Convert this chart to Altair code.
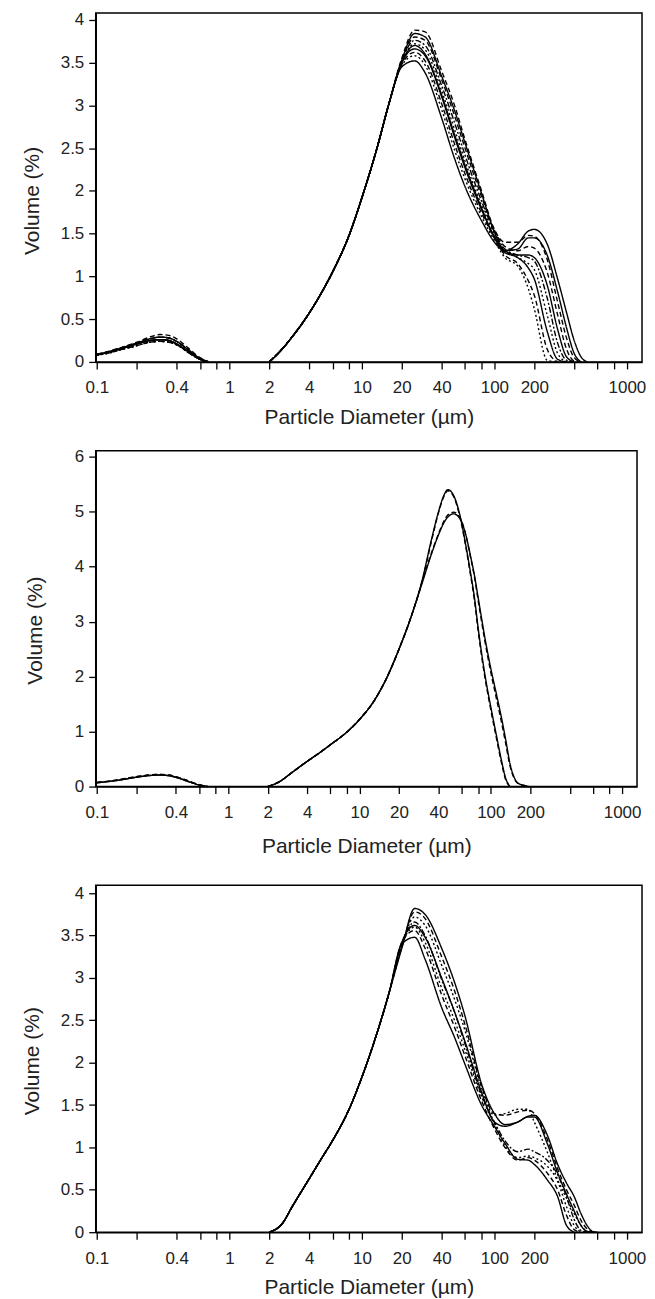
import altair as alt
import pandas as pd

# ---------------- axis ticks ----------------
X_TICKS = [0.1, 0.2, 0.4, 0.6, 0.8, 1, 2, 4, 6, 8, 10, 20, 40, 60, 80,
           100, 200, 400, 600, 800, 1000]
X_LABELED = [0.1, 0.4, 1, 2, 4, 10, 20, 40, 100, 200, 1000]
Y_TICKS_4 = [0, 0.5, 1, 1.5, 2, 2.5, 3, 3.5, 4]
Y_TICKS_6 = [0, 1, 2, 3, 4, 5, 6]

STYLES = ["solid", "dashed", "dotted", "dashdot"]
DASHES = [[1, 0], [5, 3], [2, 2.5], [6, 2, 2, 2]]

# ---------------- panel 1 ----------------
P1_FINE_X = [0.1, 0.12, 0.15, 0.2, 0.25, 0.3, 0.35, 0.4, 0.5, 0.6, 0.7]
P1_FINE_A = [0.085, 0.11, 0.15, 0.21, 0.25, 0.26, 0.25, 0.21, 0.11, 0.03, 0.0]
P1_FINE_B = [0.08, 0.10, 0.14, 0.19, 0.23, 0.24, 0.23, 0.20, 0.10, 0.03, 0.0]
P1_FINE_C = [0.09, 0.115, 0.16, 0.22, 0.27, 0.29, 0.28, 0.24, 0.13, 0.04, 0.0]
P1_FINE_D = [0.09, 0.12, 0.165, 0.23, 0.29, 0.32, 0.31, 0.27, 0.15, 0.05, 0.0]

P1_RISE_X = [2, 2.5, 3, 4, 5, 6, 8, 10, 13, 16]
P1_RISE_Y = [0, 0.15, 0.30, 0.57, 0.82, 1.05, 1.48, 1.92, 2.50, 3.02]
P1_TAIL_X = [20, 25, 30, 40, 50, 60, 80, 100, 120, 150, 180, 200, 250,
             300, 350, 400, 450, 500]
P1_C1 = [3.45, 3.52, 3.38, 2.85, 2.38, 2.05, 1.65, 1.40, 1.28, 1.22, 1.10, 0.97, 0.36, 0.03, 0.0]
P1_C2 = [3.47, 3.58, 3.47, 2.95, 2.48, 2.14, 1.70, 1.42, 1.22, 1.12, 0.86, 0.62, 0.02, 0.0]
P1_C3 = [3.48, 3.62, 3.52, 3.02, 2.55, 2.20, 1.74, 1.45, 1.25, 1.15, 0.95, 0.78, 0.15, 0.0]
P1_C4 = [3.50, 3.66, 3.58, 3.10, 2.63, 2.27, 1.78, 1.47, 1.30, 1.25, 1.25, 1.22, 0.90, 0.38, 0.06, 0.0]
P1_C5 = [3.50, 3.72, 3.65, 3.17, 2.72, 2.35, 1.83, 1.50, 1.30, 1.22, 1.15, 1.08, 0.55, 0.10, 0.0]
P1_C6 = [3.52, 3.76, 3.70, 3.23, 2.80, 2.42, 1.88, 1.52, 1.32, 1.25, 1.22, 1.18, 0.75, 0.22, 0.02, 0.0]
P1_C7 = [3.52, 3.80, 3.76, 3.30, 2.88, 2.50, 1.93, 1.54, 1.35, 1.30, 1.35, 1.33, 1.05, 0.55, 0.15, 0.01, 0.0]
P1_C8 = [3.53, 3.84, 3.80, 3.34, 2.94, 2.56, 1.97, 1.52, 1.30, 1.32, 1.45, 1.45, 1.25, 0.82, 0.40, 0.10, 0.0]
P1_C9 = [3.55, 3.88, 3.86, 3.40, 3.00, 2.60, 2.00, 1.55, 1.40, 1.40, 1.48, 1.47, 1.20, 0.70, 0.28, 0.05, 0.0]
P1_C10 = [3.50, 3.70, 3.60, 3.12, 2.66, 2.30, 1.80, 1.45, 1.30, 1.38, 1.53, 1.55, 1.38, 0.97, 0.58, 0.25, 0.06, 0.0]

P1_CURVES = [
    ("solid", P1_FINE_A, P1_C1), ("dotted", P1_FINE_B, P1_C2),
    ("dashed", P1_FINE_C, P1_C3), ("solid", P1_FINE_A, P1_C4),
    ("dotted", P1_FINE_B, P1_C5), ("dashdot", P1_FINE_C, P1_C6),
    ("dashed", P1_FINE_D, P1_C7), ("solid", P1_FINE_A, P1_C8),
    ("dashed", P1_FINE_B, P1_C9), ("solid", P1_FINE_C, P1_C10),
]

# ---------------- panel 2 ----------------
P2_FINE_X = [0.1, 0.12, 0.15, 0.2, 0.25, 0.3, 0.35, 0.4, 0.5, 0.6, 0.7]
P2_FINE_A = [0.07, 0.09, 0.12, 0.17, 0.20, 0.21, 0.20, 0.17, 0.09, 0.03, 0.0]
P2_FINE_B = [0.075, 0.095, 0.13, 0.18, 0.21, 0.22, 0.21, 0.18, 0.10, 0.035, 0.0]

P2_RISE_X = [2, 2.5, 3, 4, 5, 6, 8, 10, 13, 16, 20, 25]
P2_RISE_Y = [0, 0.10, 0.24, 0.46, 0.62, 0.76, 0.99, 1.22, 1.57, 1.96, 2.50, 3.12]
P2_TAIL_X = [30, 35, 40, 44, 47, 52, 58, 65, 70, 75, 80, 90, 100, 110, 120,
             130, 140, 150, 160, 180, 195]
P2_A1 = [3.75, 4.45, 5.00, 5.30, 5.40, 5.30, 4.95, 4.35, 3.90, 3.45, 2.90, 2.05, 1.45, 0.95, 0.50, 0.15, 0.0]
P2_A2 = [3.73, 4.42, 4.98, 5.28, 5.38, 5.28, 4.92, 4.32, 3.86, 3.40, 2.85, 2.00, 1.40, 0.90, 0.46, 0.12, 0.0]
P2_B1 = [3.70, 4.20, 4.58, 4.80, 4.90, 4.96, 4.88, 4.55, 4.20, 3.85, 3.45, 2.72, 2.15, 1.70, 1.28, 0.85, 0.42, 0.18, 0.07, 0.02, 0.0]
P2_B2 = [3.72, 4.22, 4.60, 4.83, 4.94, 4.99, 4.90, 4.55, 4.18, 3.82, 3.40, 2.66, 2.08, 1.62, 1.20, 0.78, 0.38, 0.16, 0.06, 0.02, 0.0]

P2_CURVES = [("solid", P2_FINE_A, P2_A1), ("dashed", P2_FINE_B, P2_A2),
             ("solid", P2_FINE_A, P2_B1), ("dashed", P2_FINE_B, P2_B2)]

# ---------------- panel 3 ----------------
P3_RISE_X = [2, 2.5, 3, 4, 5, 6, 8, 10, 13, 16]
P3_RISE_Y = [0, 0.10, 0.31, 0.63, 0.88, 1.08, 1.45, 1.83, 2.35, 2.82]
P3_TAIL_X = [20, 25, 30, 40, 50, 60, 80, 100, 120, 150, 180, 200, 250, 300,
             350, 400, 450, 500, 550, 600]
P3_C1 = [3.40, 3.48, 3.22, 2.65, 2.30, 1.98, 1.50, 1.25, 1.05, 0.86, 0.85, 0.80, 0.62, 0.42, 0.08, 0.0]
P3_C2 = [3.42, 3.56, 3.35, 2.80, 2.42, 2.08, 1.55, 1.22, 1.00, 0.85, 0.88, 0.85, 0.70, 0.50, 0.20, 0.03, 0.0]
P3_C3 = [3.40, 3.60, 3.42, 2.88, 2.50, 2.15, 1.60, 1.28, 1.02, 0.88, 0.90, 0.88, 0.78, 0.60, 0.30, 0.08, 0.0]
P3_C4 = [3.40, 3.66, 3.50, 2.98, 2.60, 2.22, 1.62, 1.30, 1.08, 0.95, 0.98, 0.95, 0.85, 0.68, 0.42, 0.15, 0.02, 0.0]
P3_C5 = [3.42, 3.62, 3.48, 3.00, 2.60, 2.25, 1.65, 1.30, 1.25, 1.30, 1.36, 1.36, 1.05, 0.70, 0.45, 0.25, 0.08, 0.01, 0.0]
P3_C6 = [3.38, 3.72, 3.62, 3.15, 2.75, 2.38, 1.70, 1.38, 1.40, 1.45, 1.45, 1.30, 0.95, 0.62, 0.40, 0.22, 0.08, 0.01, 0.0]
P3_C7 = [3.36, 3.78, 3.70, 3.25, 2.85, 2.45, 1.72, 1.40, 1.38, 1.42, 1.44, 1.40, 1.10, 0.75, 0.50, 0.32, 0.14, 0.04, 0.0]
P3_C8 = [3.35, 3.82, 3.75, 3.35, 2.95, 2.55, 1.75, 1.40, 1.27, 1.30, 1.37, 1.38, 1.15, 0.80, 0.58, 0.42, 0.22, 0.08, 0.01, 0.0]

P3_CURVES = [("solid", None, P3_C1), ("dashed", None, P3_C2),
             ("dotted", None, P3_C3), ("dashdot", None, P3_C4),
             ("solid", None, P3_C5), ("dotted", None, P3_C6),
             ("dashed", None, P3_C7), ("solid", None, P3_C8)]

# ---------------- build table ----------------
rows = []


def add_panel(panel, curves, fine_x, rise_x, rise_y, tail_x):
    for i, (style, fine, tail) in enumerate(curves):
        if fine is not None:
            for x, y in zip(fine_x, fine):
                rows.append({"panel": panel, "key": f"{panel}-{i}-f",
                             "x": x, "y": y, "style": style})
        for x, y in zip(list(rise_x) + list(tail_x), list(rise_y) + list(tail)):
            rows.append({"panel": panel, "key": f"{panel}-{i}-c",
                         "x": x, "y": y, "style": style})


add_panel(1, P1_CURVES, P1_FINE_X, P1_RISE_X, P1_RISE_Y, P1_TAIL_X)
add_panel(2, P2_CURVES, P2_FINE_X, P2_RISE_X, P2_RISE_Y, P2_TAIL_X)
add_panel(3, P3_CURVES, None, P3_RISE_X, P3_RISE_Y, P3_TAIL_X)
df = pd.DataFrame(rows)

LABEL_EXPR = ("indexof([" + ",".join(str(v) for v in X_LABELED) +
              "], datum.value) >= 0 ? format(datum.value, '~g') : ''")
FONT = "Liberation Sans, Arial, sans-serif"


def make_panel(p, w, h, ymax, yticks, title_x, title_y, xtitle_pad):
    return alt.Chart(df[df.panel == p]).mark_line(
        interpolate="monotone", color="black", strokeWidth=1.4
    ).encode(
        x=alt.X("x:Q",
                scale=alt.Scale(type="log", domain=[0.098, 1300], nice=False),
                axis=alt.Axis(values=X_TICKS, labelExpr=LABEL_EXPR,
                              title="Particle Diameter (µm)", tickSize=7,
                              labelPadding=11, titlePadding=xtitle_pad,
                              labelOverlap=False, labelFlush=False,
                              grid=False)),
        y=alt.Y("y:Q",
                scale=alt.Scale(domain=[0, ymax], nice=False),
                axis=alt.Axis(values=yticks, format="~g", title="Volume (%)",
                              titleX=title_x, titleY=title_y, tickSize=7,
                              labelPadding=5, labelOverlap=False, grid=False)),
        detail="key:N",
        strokeDash=alt.StrokeDash("style:N",
                                  scale=alt.Scale(domain=STYLES, range=DASHES),
                                  legend=None),
    ).properties(width=w, height=h)


p1 = make_panel(1, 548, 350, 4.08, Y_TICKS_4, -53, 188, 11)
p2 = make_panel(2, 543, 337, 6.11, Y_TICKS_6, -50, 180, 15)
p3 = make_panel(3, 548, 348, 4.094, Y_TICKS_4, -53, 176, 11)

chart = alt.vconcat(
    alt.vconcat(p1, p2, spacing=18),
    p3, spacing=26
).properties(
    padding={"left": 13, "top": 0, "right": 0, "bottom": 0}
).configure_view(
    stroke="black", strokeWidth=1.5
).configure_axis(
    domainColor="black", domainWidth=1.5, tickColor="black", tickWidth=1.3,
    labelFont=FONT, labelFontSize=17, labelColor="#222",
    titleFont=FONT, titleFontSize=21, titleFontWeight="normal",
    titleColor="#222"
)

chart.save("out.html", embed_options={"renderer": "svg", "actions": False})
